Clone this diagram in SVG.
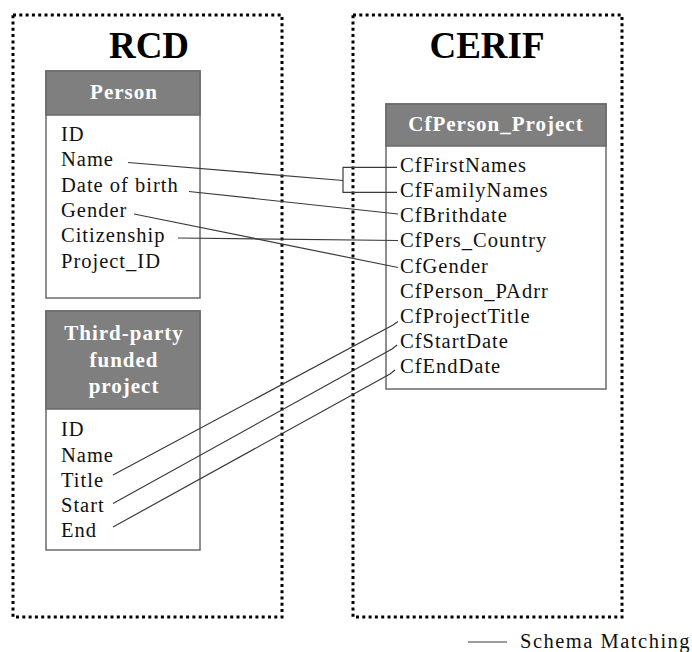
<svg xmlns="http://www.w3.org/2000/svg" width="692" height="652" viewBox="0 0 692 652">
<style>
.frame{fill:none;stroke:#000;stroke-width:3;stroke-dasharray:3 3.3}
.title{font-family:"Liberation Serif",serif;font-weight:bold;font-size:37px;fill:#000;text-anchor:middle}
.box{fill:#fff;stroke:#6a6a6a;stroke-width:1.5}
.hdr{fill:#7f7f7f;stroke:#6a6a6a;stroke-width:1.5}
.htxt{font-family:"Liberation Serif",serif;font-weight:bold;font-size:21px;fill:#fff;text-anchor:middle;letter-spacing:1px}
.fld{font-family:"Liberation Serif",serif;font-size:20.5px;fill:#111;letter-spacing:1px}
.leg{letter-spacing:1.5px}
.con{fill:none;stroke:#3a3a3a;stroke-width:1.2}
</style>
<rect width="692" height="652" fill="#fff"/>
<g id="rcd-frame">
<rect class="frame" x="13" y="15" width="269" height="602"/>
<text class="title" x="149" y="58">RCD</text>
</g>
<g id="cerif-frame">
<rect class="frame" x="353" y="15" width="269" height="602"/>
<text class="title" x="487" y="58">CERIF</text>
</g>
<g id="person">
<rect class="box" x="46" y="71" width="154" height="227"/>
<rect class="hdr" x="46" y="71" width="154" height="44"/>
<text class="htxt" x="124" y="99">Person</text>
<text class="fld" x="61" y="140.5">ID</text>
<text class="fld" x="61" y="166">Name</text>
<text class="fld" x="61" y="191.5">Date of birth</text>
<text class="fld" x="61" y="216.8">Gender</text>
<text class="fld" x="61" y="242.3">Citizenship</text>
<text class="fld" x="61" y="267.5">Project_ID</text>
</g>
<g id="third-party-project">
<rect class="box" x="46" y="311" width="154" height="239"/>
<rect class="hdr" x="46" y="311" width="154" height="98"/>
<text class="htxt" x="124" y="340">Third-party</text>
<text class="htxt" x="124" y="367">funded</text>
<text class="htxt" x="124" y="393">project</text>
<text class="fld" x="61" y="435.5">ID</text>
<text class="fld" x="61" y="461.5">Name</text>
<text class="fld" x="61" y="486.5">Title</text>
<text class="fld" x="61" y="512">Start</text>
<text class="fld" x="61" y="537">End</text>
</g>
<g id="cfperson-project">
<rect class="box" x="386" y="104" width="220" height="285"/>
<rect class="hdr" x="386" y="104" width="220" height="42"/>
<text class="htxt" x="496" y="131">CfPerson_Project</text>
<text class="fld" x="400" y="172">CfFirstNames</text>
<text class="fld" x="400" y="197">CfFamilyNames</text>
<text class="fld" x="400" y="222">CfBrithdate</text>
<text class="fld" x="400" y="247">CfPers_Country</text>
<text class="fld" x="400" y="273">CfGender</text>
<text class="fld" x="400" y="298">CfPerson_PAdrr</text>
<text class="fld" x="400" y="323">CfProjectTitle</text>
<text class="fld" x="400" y="348">CfStartDate</text>
<text class="fld" x="400" y="372.5">CfEndDate</text>
</g>
<g id="connectors">
<polyline class="con" points="128,162.5 343,180.5"/>
<polyline class="con" points="397,167.3 343,167.3 343,192.3 397,192.3"/>
<polyline class="con" points="189,191.5 398,214"/>
<polyline class="con" points="178,238 398,240.5"/>
<polyline class="con" points="134,214 398,267.5"/>
<polyline class="con" points="113,475 393,325 398,321.5"/>
<polyline class="con" points="113,503.5 392,349 397,345"/>
<polyline class="con" points="113,527 390,374 395,370"/>
</g>
<g id="legend">
<line class="con" x1="468" y1="642" x2="507" y2="642"/>
<text class="fld leg" x="520" y="648">Schema Matching</text>
</g>
</svg>
